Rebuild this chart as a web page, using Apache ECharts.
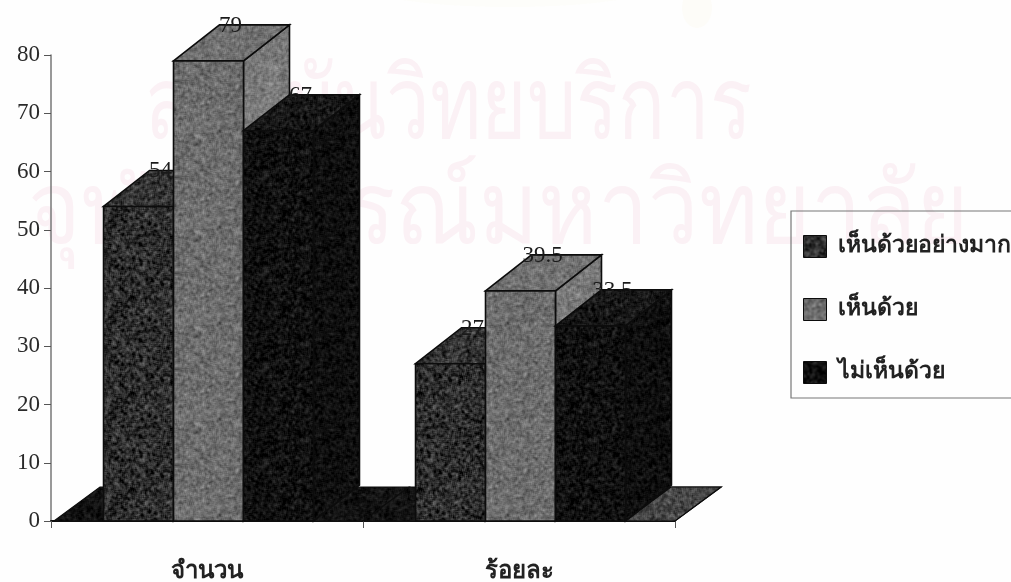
<!DOCTYPE html>
<html>
<head>
<meta charset="utf-8">
<style>html,body{margin:0;padding:0;background:#fff}#chart{width:1011px;height:582px}</style>
<script src="https://cdn.jsdelivr.net/npm/echarts@6/dist/echarts.min.js"></script>
</head>
<body>
<div id="chart"></div>
<script>
const categories = ['จำนวน', 'ร้อยละ'];
const seriesNames = ['เห็นด้วยอย่างมาก', 'เห็นด้วย', 'ไม่เห็นด้วย'];
const agreeStrongly = [54, 27];
const agree = [79, 39.5];
const disagree = [67, 33.5];
const valueTicks = [0, 10, 20, 30, 40, 50, 60, 70, 80];
const watermarkLines = ['สถาบันวิทยบริการ', 'จุฬาลงกรณ์มหาวิทยาลัย'];

// Oblique projection of the bars: how far the back face sits from the front face.
const DEPTH_X = 46;
const DEPTH_Y = 36;
const BAR_SHARE = 0.2243;
const BAR_SHIFT = 1.5;

// Fixed-seed speckle tile so the printed halftone look repeats identically on every load.
function speckle(base, spread, seed) {
  const size = 96;
  const c = document.createElement('canvas');
  c.width = c.height = size;
  const ctx = c.getContext('2d');
  const img = ctx.createImageData(size, size);
  let s = seed;
  const next = () => (s = (s * 1664525 + 1013904223) >>> 0) / 4294967296;
  const raw = new Float32Array(size * size);
  for (let i = 0; i < raw.length; i++) raw[i] = next() - 0.5;
  for (let y = 0; y < size; y++) {
    for (let x = 0; x < size; x++) {
      let sum = 0;
      for (let dy = -1; dy <= 1; dy++) {
        for (let dx = -1; dx <= 1; dx++) {
          sum += raw[((y + dy + size) % size) * size + (x + dx + size) % size];
        }
      }
      const v = base + (sum / 3) * spread;
      const i = (y * size + x) * 4;
      img.data[i] = img.data[i + 1] = img.data[i + 2] = v;
      img.data[i + 3] = 255;
    }
  }
  ctx.putImageData(img, 0, 0);
  return { image: c, repeat: 'repeat' };
}

const faces = [
  { front: speckle(44, 62, 11), top: speckle(52, 55, 12), side: speckle(36, 50, 13) },
  { front: speckle(108, 42, 21), top: speckle(112, 38, 22), side: speckle(122, 38, 23) },
  { front: speckle(16, 36, 31), top: speckle(22, 36, 32), side: speckle(14, 28, 33) }
];
const floorDark = speckle(18, 26, 41);
const floorLight = speckle(70, 46, 42);
const INK = '#0c0c0c';

function poly(points, fill) {
  return {
    type: 'polygon',
    shape: { points: points },
    style: { fill: fill, stroke: INK, lineWidth: 1.6, lineJoin: 'miter' }
  };
}

function renderBar(seriesIdx) {
  return function (params, api) {
    const cat = api.value(0);
    const val = api.value(1);
    const band = api.size([1, 0])[0];
    const w = band * BAR_SHARE;
    const base = api.coord([cat, 0]);
    const top = api.coord([cat, val]);
    const l = base[0] + BAR_SHIFT - 1.5 * w + seriesIdx * w;
    const r = l + w;
    const f = faces[seriesIdx];
    return {
      type: 'group',
      children: [
        poly([[r, top[1]], [r + DEPTH_X, top[1] - DEPTH_Y], [r + DEPTH_X, base[1] - DEPTH_Y], [r, base[1]]], f.side),
        poly([[l, top[1]], [l + DEPTH_X, top[1] - DEPTH_Y], [r + DEPTH_X, top[1] - DEPTH_Y], [r, top[1]]], f.top),
        poly([[l, top[1]], [r, top[1]], [r, base[1]], [l, base[1]]], f.front),
        {
          type: 'text',
          style: {
            text: String(val),
            x: (l + r) / 2 + 22,
            y: top[1] - DEPTH_Y + 1,
            align: 'center',
            verticalAlign: 'middle',
            fill: '#1a1a1a',
            font: '23px "Liberation Serif", serif'
          }
        }
      ]
    };
  };
}

// Floor slab under each category, drawn before the bars; the far right end is lighter.
function renderFloor(params, api) {
  const cat = api.value(0);
  const band = api.size([1, 0])[0];
  const base = api.coord([cat, 0]);
  const l = base[0] - band / 2;
  const r = base[0] + band / 2;
  const y = base[1];
  const back = y - DEPTH_Y + 2;
  const slab = (x0, x1, fill) => ({
    type: 'polygon',
    shape: { points: [[x0, y], [x0 + DEPTH_X, back], [x1 + DEPTH_X, back], [x1, y]] },
    style: { fill: fill, stroke: INK, lineWidth: 1.2 }
  });
  const children = [slab(cat === 0 ? l + 3 : l, r, floorDark)];
  if (cat === categories.length - 1) children.push(slab(r - 50, r, floorLight));
  return { type: 'group', children: children };
}

const barSeries = [agreeStrongly, agree, disagree].map((vals, i) => ({
  name: seriesNames[i],
  type: 'custom',
  renderItem: renderBar(i),
  encode: { x: 0, y: 1 },
  clip: false,
  z: 3,
  itemStyle: { color: faces[i].front },
  data: vals.map((v, c) => [c, v])
}));

const watermarkInk = '#fbf1f5';

const chart = echarts.init(document.getElementById('chart'), null, { renderer: 'canvas' });
chart.setOption({
  animation: false,
  backgroundColor: '#fefefe',
  textStyle: { fontFamily: '"Liberation Serif", serif' },
  graphic: [
    {
      type: 'ellipse', silent: true, z: -1,
      shape: { cx: 510, cy: -30, rx: 185, ry: 37 },
      style: { fill: '#fdfdfa' }
    },
    {
      type: 'ellipse', silent: true, z: -1,
      shape: { cx: 697, cy: 8, rx: 15, ry: 20 },
      style: { fill: '#fdfcf8' }
    },
    {
      type: 'text', silent: true, z: -1, x: 145, y: 60, scaleX: 0.78,
      style: { text: watermarkLines[0], fill: watermarkInk, font: '100px "Noto Sans", sans-serif' }
    },
    {
      type: 'text', silent: true, z: -1, x: 28, y: 165, scaleX: 0.9,
      style: { text: watermarkLines[1], fill: watermarkInk, font: '100px "Noto Sans", sans-serif' }
    }
  ],
  grid: { left: 51, top: 55, width: 624, height: 466, outerBoundsMode: 'none' },
  xAxis: {
    type: 'category',
    data: categories,
    axisLine: { show: true, lineStyle: { color: '#111', width: 2 } },
    axisTick: { show: true, length: 7, alignWithLabel: false, lineStyle: { color: '#555', width: 1 } },
    axisLabel: { margin: 39, fontSize: 24, color: '#222', fontWeight: 'bold' }
  },
  yAxis: {
    type: 'value',
    min: 0,
    max: 80,
    interval: 10,
    splitLine: { show: false },
    axisLine: { show: true, lineStyle: { color: '#777', width: 1.5 } },
    axisTick: { show: true, length: 7, lineStyle: { color: '#555', width: 1 } },
    axisLabel: {
      margin: 11,
      fontSize: 23,
      color: '#2a2a2a',
      fontFamily: '"Liberation Serif", serif',
      formatter: (v) => (valueTicks.includes(v) ? String(v) : '')
    }
  },
  legend: {
    orient: 'vertical',
    left: 791,
    top: 211,
    padding: [24, 40, 14, 12],
    borderColor: '#777',
    borderWidth: 1.2,
    itemWidth: 23,
    itemHeight: 22,
    itemGap: 40,
    textStyle: { fontSize: 23, color: '#222', fontWeight: 'bold', padding: [0, 0, 0, 6] },
    data: seriesNames.map((name, i) => ({
      name: name,
      icon: 'rect',
      itemStyle: { color: faces[i].front, borderColor: INK, borderWidth: 1 }
    }))
  },
  series: [
    {
      type: 'custom',
      renderItem: renderFloor,
      encode: { x: 0, y: 1 },
      clip: false,
      silent: true,
      z: 2,
      data: categories.map((_, c) => [c, 0])
    },
    ...barSeries
  ]
});
</script>
</body>
</html>
